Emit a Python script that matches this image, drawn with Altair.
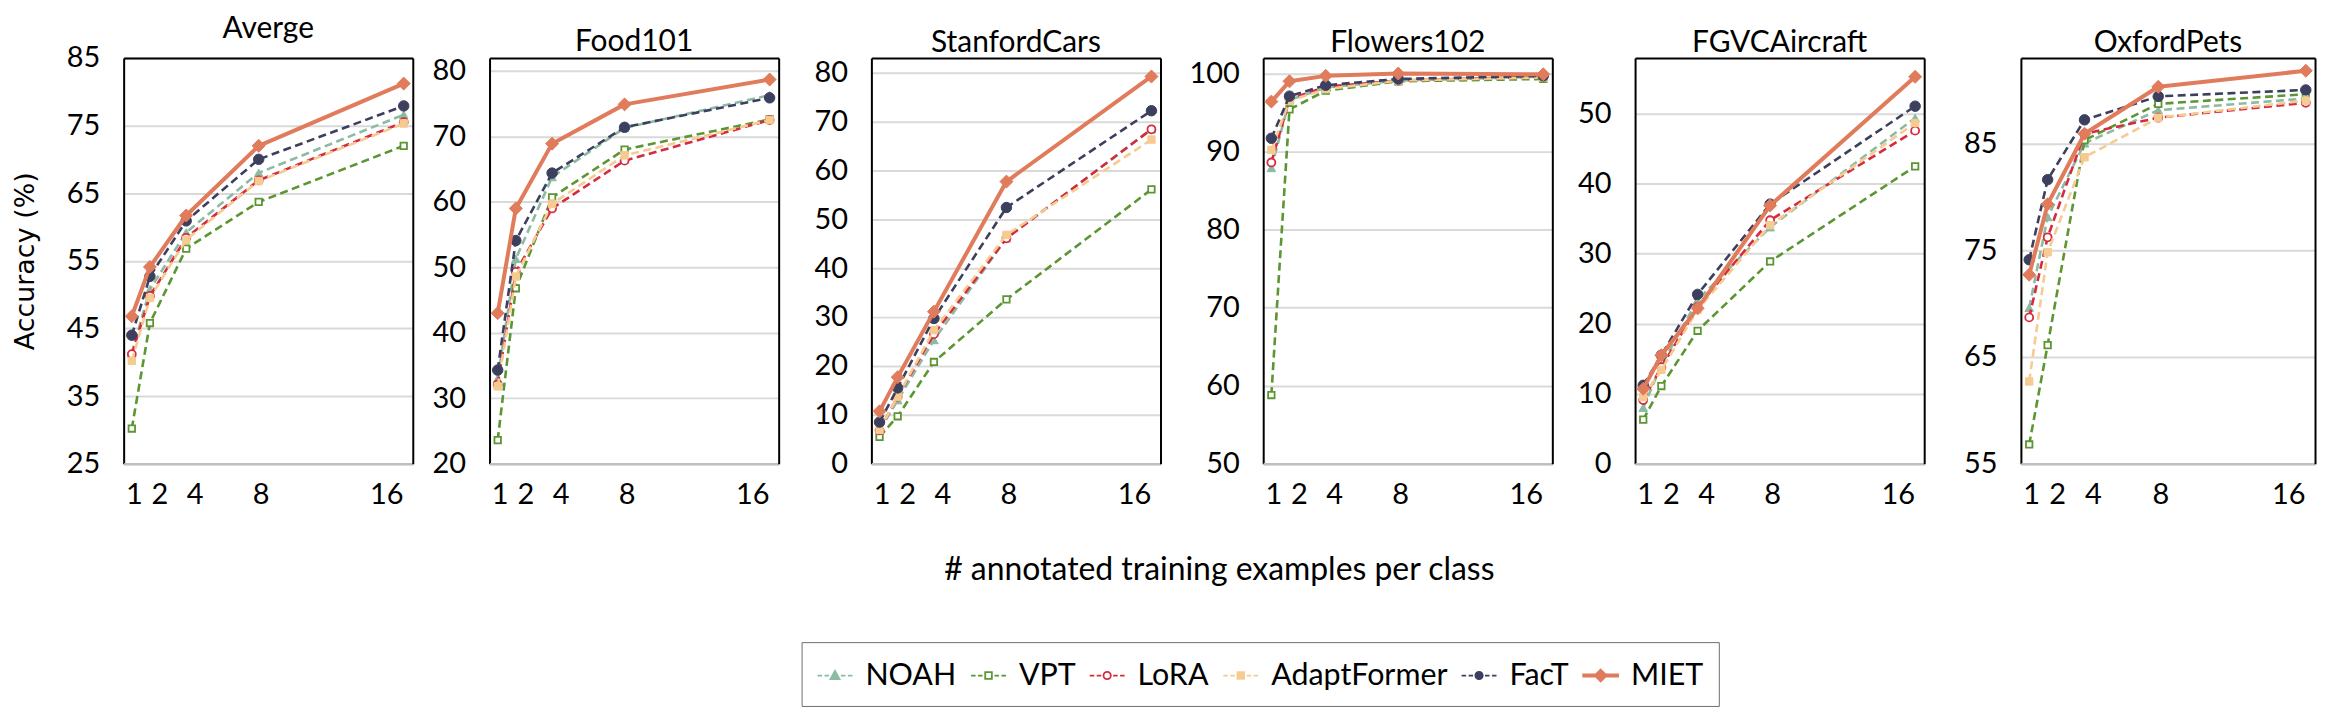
import altair as alt
import pandas as pd

SHOTS = [1, 2, 4, 8, 16]
SERIES = ["NOAH", "VPT", "LoRA", "AdaptFormer", "FacT", "MIET"]
COLORS = ["#8BBBA3", "#5B9632", "#D62B3F", "#F6CB91", "#3C405E", "#E07B5B"]
PANELS = ["Averge", "Food101", "StanfordCars", "Flowers102", "FGVCAircraft", "OxfordPets"]

AVERGE = {
    "NOAH": [41.3, 50.8, 59.2, 68.0, 76.6],
    "VPT": [30.2, 45.8, 56.8, 63.7, 72.0],
    "LoRA": [41.2, 49.8, 58.4, 66.9, 75.5],
    "AdaptFormer": [40.2, 49.5, 58.1, 66.8, 75.3],
    "FacT": [44.0, 52.7, 60.9, 70.0, 77.9],
    "MIET": [46.8, 54.1, 61.7, 72.0, 81.2],
}
FOOD101 = {
    "NOAH": [33.0, 51.3, 63.8, 71.3, 76.3],
    "VPT": [23.6, 46.8, 60.7, 68.0, 72.6],
    "LoRA": [32.1, 49.3, 59.0, 66.3, 72.5],
    "AdaptFormer": [31.8, 48.6, 59.7, 67.1, 72.5],
    "FacT": [34.3, 54.1, 64.4, 71.4, 75.9],
    "MIET": [43.0, 59.0, 68.9, 74.9, 78.7],
}
STANFORDCARS = {
    "NOAH": [6.8, 13.0, 25.3, 46.1, 68.4],
    "VPT": [5.5, 9.7, 20.8, 33.6, 56.1],
    "LoRA": [6.8, 13.7, 26.5, 46.1, 68.4],
    "AdaptFormer": [6.9, 13.7, 27.3, 46.8, 66.3],
    "FacT": [8.5, 15.5, 29.7, 52.4, 72.2],
    "MIET": [10.7, 17.7, 31.1, 57.7, 79.2],
}
FLOWERS102 = {
    "NOAH": [87.9, 96.6, 98.2, 99.1, 99.6],
    "VPT": [58.8, 95.4, 97.8, 99.0, 99.3],
    "LoRA": [88.6, 96.7, 98.3, 99.1, 99.6],
    "AdaptFormer": [90.2, 96.5, 98.0, 99.1, 99.5],
    "FacT": [91.7, 97.1, 98.5, 99.3, 99.7],
    "MIET": [96.4, 99.0, 99.7, 100.0, 99.9],
}
FGVCAIRCRAFT = {
    "NOAH": [8.0, 14.1, 23.4, 33.8, 49.4],
    "VPT": [6.3, 11.1, 19.0, 28.9, 42.5],
    "LoRA": [9.1, 13.8, 22.4, 34.8, 47.6],
    "AdaptFormer": [9.5, 13.4, 22.0, 34.1, 48.7],
    "FacT": [11.2, 15.5, 24.2, 37.1, 51.1],
    "MIET": [10.7, 15.5, 22.2, 36.9, 55.3],
}
OXFORDPETS = {
    "NOAH": [69.6, 78.1, 85.0, 88.1, 89.2],
    "VPT": [56.8, 66.1, 85.3, 88.7, 89.6],
    "LoRA": [68.7, 76.2, 85.9, 87.4, 88.8],
    "AdaptFormer": [62.7, 74.8, 83.7, 87.4, 89.0],
    "FacT": [74.1, 81.6, 87.2, 89.4, 90.0],
    "MIET": [72.7, 79.3, 85.9, 90.3, 91.8],
}
DATA = [AVERGE, FOOD101, STANFORDCARS, FLOWERS102, FGVCAIRCRAFT, OXFORDPETS]

Y_DOMAINS = [[25, 85], [20, 82], [0, 83], [50, 102], [0, 58], [55, 93]]
Y_TICKS = [
    [25, 35, 45, 55, 65, 75, 85],
    [20, 30, 40, 50, 60, 70, 80],
    [0, 10, 20, 30, 40, 50, 60, 70, 80],
    [50, 60, 70, 80, 90, 100],
    [0, 10, 20, 30, 40, 50],
    [55, 65, 75, 85],
]
Y_TITLE = "Accuracy (%)"
X_TITLE = "# annotated training examples per class"

# ---- styles ----
FONT = "Lato"
DASH = [8, 4.5]
MARK_STYLE = {
    "NOAH": dict(shape="triangle-up", size=75, fill="#8BBBA3", stroke="#8BBBA3", strokeWidth=1),
    "VPT": dict(shape="square", size=42, fill="white", stroke="#5B9632", strokeWidth=1.8),
    "LoRA": dict(shape="circle", size=64, fill="white", stroke="#D62B3F", strokeWidth=1.8),
    "AdaptFormer": dict(shape="square", size=55, fill="#F6CB91", stroke="#F6CB91", strokeWidth=1),
    "FacT": dict(shape="circle", size=110, fill="#3C405E", stroke="#3C405E", strokeWidth=1),
    "MIET": dict(shape="diamond", size=170, fill="#E07B5B", stroke="#E07B5B", strokeWidth=1),
}
PANEL_W = [290, 290, 290, 290, 290, 295]
PANEL_H = 407
MIN_EXT = [58, 75.5, 91, 101, 81, 95]
# the tick labels of the original sit as a loose text row under the points
X_LABEL_SHIFT = {1: 2, 2: 9.5, 4: 8.5, 8: 2, 16: -17.5}

rows = []
for pname, dset in zip(PANELS, DATA):
    for s in SERIES:
        for x, v in zip(SHOTS, dset[s]):
            rows.append({"panel": pname, "series": s, "shots": x, "acc": v})
df = pd.DataFrame(rows)

x_label_offset = {
    "condition": [{"test": f"datum.value === {k}", "value": v}
                  for k, v in list(X_LABEL_SHIFT.items())[:-1]],
    "value": list(X_LABEL_SHIFT.values())[-1],
}


def make_panel(i):
    name = PANELS[i]
    d = df[df["panel"] == name]
    xsc = alt.Scale(domain=[0.55, 16.5], nice=False, zero=False)
    ysc = alt.Scale(domain=Y_DOMAINS[i], nice=False, zero=False)

    yaxis_kw = dict(
        values=Y_TICKS[i], grid=True, gridColor="#D9D9D9", gridWidth=2,
        ticks=False, tickSize=0, domainColor="black", domainWidth=2,
        labelFont=FONT, labelFontSize=29, labelColor="black", labelPadding=24,
        labelFlush=False, labelOverlap=False, labelBound=False, minExtent=MIN_EXT[i],
    )
    if i == 0:
        yaxis_kw.update(title=Y_TITLE, titleFont="DejaVu Sans", titleFontSize=27,
                        titleFontWeight="normal", titleColor="black", titlePadding=26)
    else:
        yaxis_kw.update(title=None, titlePadding=0)

    axes = alt.Chart(d).mark_point(opacity=0).encode(
        x=alt.X("shots:Q", scale=xsc, axis=alt.Axis(
            values=SHOTS, orient="bottom", grid=False, ticks=False, tickSize=0,
            domainColor="#BFBFBF", domainWidth=2.5, labelFont=FONT, labelFontSize=29,
            labelColor="black", labelPadding=17, labelFlush=False, labelOverlap=False,
            labelBound=False, labelOffset=x_label_offset, title=None, zindex=1)),
        y=alt.Y("acc:Q", scale=ysc, axis=alt.Axis(**yaxis_kw)),
    )
    frame = alt.Chart(d).mark_point(opacity=0).encode(
        x=alt.X("shots:Q", scale=xsc, axis=alt.Axis(
            orient="top", labels=False, ticks=False, grid=False, title=None,
            domainColor="black", domainWidth=2, minExtent=0, maxExtent=0, zindex=1)),
        y=alt.Y("acc:Q", scale=ysc, axis=alt.Axis(
            orient="right", labels=False, ticks=False, grid=False, title=None,
            domainColor="black", domainWidth=2, minExtent=0, maxExtent=0, zindex=1)),
    )
    layers = [axes, frame]
    for s, c in zip(SERIES, COLORS):
        ds = d[d["series"] == s]
        if s == "MIET":
            line = alt.Chart(ds).mark_line(color=c, strokeWidth=4, strokeJoin="round")
        else:
            line = alt.Chart(ds).mark_line(color=c, strokeWidth=2.6, strokeDash=DASH,
                                           strokeJoin="round")
        enc = dict(x=alt.X("shots:Q", scale=xsc, axis=None),
                   y=alt.Y("acc:Q", scale=ysc, axis=None))
        pts = alt.Chart(ds).mark_point(filled=True, opacity=1, **MARK_STYLE[s])
        layers.append(line.encode(**enc))
        layers.append(pts.encode(**enc))

    return alt.layer(*layers).resolve_axis(x="independent", y="independent").properties(
        width=PANEL_W[i], height=PANEL_H,
        title=alt.TitleParams(name, font=FONT, fontSize=30, fontWeight="normal",
                              color="black", anchor="middle", baseline="alphabetic",
                              offset=-24),
    )


top_row = alt.hconcat(*[make_panel(i) for i in range(6)], spacing=0)

# ---- legend (custom symbols: dashed line + marker) ----
LD = "M-1,0L-0.74,0M-0.6,0L-0.34,0M0.34,0L0.6,0M0.74,0L1,0"
TRI = "M0,-0.27L0.26,0.2L-0.26,0.2Z"
SQ = "M-0.19,-0.19L0.19,-0.19L0.19,0.19L-0.19,0.19Z"
CIRC = "M0.21,0A0.21,0.21,0,1,1,-0.21,0A0.21,0.21,0,1,1,0.21,0Z"
DIA = "M0,-0.34L0.34,0L0,0.34L-0.34,0Z"
THICK = "M-1,-0.06L1,-0.06L1,0.06L-1,0.06Z"
SYM_PATHS = [LD + TRI, LD + SQ, LD + CIRC, LD + SQ, LD + CIRC, THICK + DIA]
SYM_FILLS = ["#8BBBA3", "white", "white", "#F6CB91", "#3C405E", "#E07B5B"]

FX = 122          # page x of the footer origin (calibrated)
FOOT_W = 1800


def make_legend():
    return alt.Legend(
        title=None, orient="none", legendX=802 - FX, legendY=20,
        direction="horizontal",
        labelFont=FONT, labelFontSize=30.5, labelColor="black", labelLimit=0,
        labelOffset=12, columnPadding=10, padding=15, symbolSize=1225,
        symbolStrokeWidth=1.8, symbolOpacity=1,
        strokeColor="#6E6E6E", cornerRadius=0,
    )


legend_df = pd.DataFrame({"series": SERIES})
footer = alt.Chart(legend_df).mark_point(opacity=0).encode(
    shape=alt.Shape("series:N", scale=alt.Scale(domain=SERIES, range=SYM_PATHS),
                    sort=SERIES, legend=make_legend()),
    fill=alt.Fill("series:N", scale=alt.Scale(domain=SERIES, range=SYM_FILLS),
                  sort=SERIES, legend=make_legend()),
    stroke=alt.Stroke("series:N", scale=alt.Scale(domain=SERIES, range=COLORS),
                      sort=SERIES, legend=make_legend()),
).properties(
    width=FOOT_W, height=10,
    title=alt.TitleParams(X_TITLE, orient="top", anchor="middle",
                          dx=1221 - FX - FOOT_W / 2,
                          font=FONT, fontSize=32, fontWeight="normal", color="black",
                          baseline="alphabetic", offset=10),
)

chart = alt.vconcat(top_row, footer, spacing=44).resolve_legend(
    shape="independent", fill="independent", stroke="independent"
).properties(
    padding={"left": 3, "top": 4, "right": 5, "bottom": 0}
).configure_view(stroke="transparent")

chart.save("out.html", embed_options={"renderer": "svg", "actions": False})
